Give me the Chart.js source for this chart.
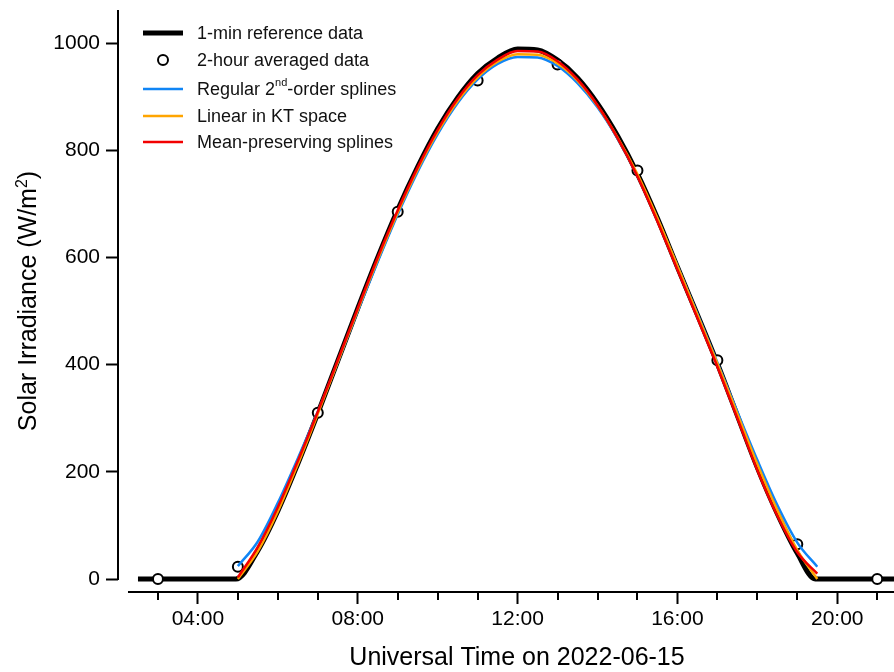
<!DOCTYPE html>
<html>
<head>
<meta charset="utf-8">
<title>Solar irradiance 2022-06-15</title>
<script src="https://cdn.jsdelivr.net/npm/chart.js@4/dist/chart.umd.min.js"></script>
<style>
  html, body { margin: 0; padding: 0; background: #fff; overflow: hidden; }
  #wrap { width: 894px; height: 672px; position: relative; }
</style>
</head>
<body>
<div id="wrap"><canvas id="irr"></canvas></div>
<script>
// 1-min reference data (hours UTC)
const refHours = [2.5, 4.95, 5.5, 6.0, 6.5, 7.0, 7.5, 8.0, 8.5, 9.0, 9.5, 10.0, 10.5, 11.0, 11.5, 12.0,
  12.5, 13.0, 13.5, 14.0, 14.5, 15.0, 15.5, 16.0, 16.5, 17.0, 17.5, 18.0, 18.5, 19.0, 19.45, 22];
const refValues = [0, 0, 53, 127, 215, 309, 407, 505, 600, 689, 769, 840, 898, 943, 972, 989,
  987, 968, 935, 887, 827, 756, 673, 582, 493, 402, 305, 208, 122, 48, 0, 0];

// 2-hour averages
const avgHours = [3, 5, 7, 9, 11, 13, 15, 17, 19, 21];
const avgValues = [0, 23, 310, 685, 930, 960, 762, 408, 65, 0];

// interpolated curves, 05:00 .. 19:30 every half hour
const fitHours = [5.0, 5.5, 6.0, 6.5, 7.0, 7.5, 8.0, 8.5, 9.0, 9.5, 10.0, 10.5, 11.0, 11.5, 12.0,
  12.5, 13.0, 13.5, 14.0, 14.5, 15.0, 15.5, 16.0, 16.5, 17.0, 17.5, 18.0, 18.5, 19.0, 19.5];
const splineValues = [24, 70, 142, 225, 312, 405, 500, 592, 680, 760, 830, 888, 932, 961, 974,
  973, 957, 925, 880, 822, 752, 672, 584, 495, 404, 312, 222, 138, 68, 23];
const ktValues = [0, 52, 126, 214, 308, 405, 502, 596, 684, 764, 834, 892, 936, 965, 979,
  978, 962, 930, 883, 824, 755, 673, 584, 493, 402, 308, 214, 128, 54, 0];
const mpValues = [3, 60, 134, 220, 312, 408, 505, 600, 688, 768, 838, 896, 940, 969, 985,
  984, 966, 932, 884, 823, 751, 667, 577, 487, 396, 300, 203, 118, 50, 10];

// axes
const yTicks = [0, 200, 400, 600, 800, 1000];
const xTickHours = [3, 4, 5, 6, 7, 8, 9, 10, 11, 12, 13, 14, 15, 16, 17, 18, 19, 20, 21];
const xLabelHours = [4, 8, 12, 16, 20];
const xTickLabels = ['04:00', '08:00', '12:00', '16:00', '20:00'];

const FONT = 'Liberation Sans, Arial, sans-serif';
const BLUE = '#1085f5';
const ORANGE = '#ffa500';
const RED = '#f20000';

const pts = (xs, ys) => xs.map((x, i) => ({ x, y: ys[i] }));

// text with superscript pieces
function richWidth(ctx, parts, size) {
  let w = 0;
  parts.forEach(p => {
    ctx.font = `${p.sup ? Math.round(size * 0.62) : size}px ${FONT}`;
    w += ctx.measureText(p.t).width;
  });
  return w;
}
function drawRich(ctx, parts, x, y, size) {
  parts.forEach(p => {
    const s = p.sup ? Math.round(size * 0.62) : size;
    ctx.font = `${s}px ${FONT}`;
    ctx.fillText(p.t, x, p.sup ? y - size * 0.38 : y);
    x += ctx.measureText(p.t).width;
  });
}

const frame = {
  id: 'frame',
  afterDraw(chart) {
    const { ctx, chartArea, scales } = chart;
    const xs = scales.x, ys = scales.y;
    ctx.save();
    ctx.strokeStyle = '#000';
    ctx.lineWidth = 2;

    // detached axis lines
    ctx.beginPath();
    ctx.moveTo(chartArea.left, ys.getPixelForValue(0) + 1);
    ctx.lineTo(chartArea.left, chartArea.top);
    ctx.moveTo(xs.getPixelForValue(2.25), chartArea.bottom);
    ctx.lineTo(chartArea.right, chartArea.bottom);
    ctx.stroke();

    // minor ticks
    ctx.beginPath();
    xTickHours.filter(h => !xLabelHours.includes(h)).forEach(h => {
      const px = Math.round(xs.getPixelForValue(h));
      ctx.moveTo(px, chartArea.bottom);
      ctx.lineTo(px, chartArea.bottom + 8);
    });
    ctx.stroke();

    // axis titles
    ctx.fillStyle = '#000';
    ctx.textBaseline = 'alphabetic';
    ctx.textAlign = 'center';
    ctx.font = `25px ${FONT}`;
    ctx.fillText('Universal Time on 2022-06-15', 517, 665);

    ctx.textAlign = 'left';
    const yt = [{ t: 'Solar Irradiance (W/m' }, { t: '2', sup: true }, { t: ')' }];
    ctx.translate(36, 301);
    ctx.rotate(-Math.PI / 2);
    drawRich(ctx, yt, -richWidth(ctx, yt, 25) / 2, 0, 25);
    ctx.setTransform(1, 0, 0, 1, 0, 0);

    // legend
    const rows = [
      { kind: 'line', color: '#000', w: 5, parts: [{ t: '1-min reference data' }] },
      { kind: 'dot', parts: [{ t: '2-hour averaged data' }] },
      { kind: 'line', color: BLUE, w: 2.5, parts: [{ t: 'Regular 2' }, { t: 'nd', sup: true }, { t: '-order splines' }] },
      { kind: 'line', color: ORANGE, w: 2.5, parts: [{ t: 'Linear in KT space' }] },
      { kind: 'line', color: RED, w: 2.5, parts: [{ t: 'Mean-preserving splines' }] }
    ];
    const rowY = [33, 60, 89, 116, 142];
    ctx.textBaseline = 'middle';
    rows.forEach((r, i) => {
      const y = rowY[i];
      if (r.kind === 'line') {
        ctx.strokeStyle = r.color;
        ctx.lineWidth = r.w;
        ctx.beginPath();
        ctx.moveTo(143, y);
        ctx.lineTo(183, y);
        ctx.stroke();
      } else {
        ctx.strokeStyle = '#000';
        ctx.fillStyle = '#fff';
        ctx.lineWidth = 2;
        ctx.beginPath();
        ctx.arc(163, y, 5, 0, Math.PI * 2);
        ctx.fill();
        ctx.stroke();
      }
      ctx.fillStyle = '#111';
      drawRich(ctx, r.parts, 197, y + 1, 18);
    });
    ctx.restore();
  }
};

new Chart(document.getElementById('irr'), {
  type: 'line',
  data: {
    datasets: [
      {
        label: 'Mean-preserving splines',
        data: pts(fitHours, mpValues),
        borderColor: RED, borderWidth: 2.5, pointRadius: 0,
        cubicInterpolationMode: 'monotone', order: 1
      },
      {
        label: 'Linear in KT space',
        data: pts(fitHours, ktValues),
        borderColor: ORANGE, borderWidth: 2.5, pointRadius: 0,
        cubicInterpolationMode: 'monotone', order: 2
      },
      {
        label: 'Regular 2nd-order splines',
        data: pts(fitHours, splineValues),
        borderColor: BLUE, borderWidth: 2.5, pointRadius: 0,
        cubicInterpolationMode: 'monotone', order: 3
      },
      {
        label: '2-hour averaged data',
        data: pts(avgHours, avgValues),
        showLine: false,
        pointRadius: 5, pointBorderWidth: 2,
        pointBackgroundColor: '#fff', pointBorderColor: '#000',
        order: 4
      },
      {
        label: '1-min reference data',
        data: pts(refHours, refValues),
        borderColor: '#000', borderWidth: 5, pointRadius: 0,
        cubicInterpolationMode: 'monotone', order: 5
      }
    ]
  },
  options: {
    responsive: true,
    maintainAspectRatio: false,
    animation: false,
    layout: { autoPadding: false, padding: { top: 10, left: 0, right: 0, bottom: 0 } },
    plugins: { legend: { display: false }, tooltip: { enabled: false } },
    scales: {
      x: {
        type: 'linear',
        min: 2,
        max: 21.42,
        afterBuildTicks: s => { s.ticks = xTickHours.map(v => ({ value: v })); },
        afterFit: s => { s.height = 80; s.paddingLeft = 0; s.paddingRight = 0; },
        ticks: {
          autoSkip: false,
          maxRotation: 0,
          padding: 3,
          color: '#000',
          font: { family: FONT, size: 21 },
          callback: v => {
            const i = xLabelHours.indexOf(v);
            return i >= 0 ? xTickLabels[i] : '';
          }
        },
        grid: {
          drawOnChartArea: false,
          tickLength: 12,
          tickWidth: 2,
          tickColor: c => (c.tick && xLabelHours.includes(c.tick.value)) ? '#000' : 'rgba(0,0,0,0)'
        },
        border: { display: false }
      },
      y: {
        min: -24.25,
        max: 1061.6,
        afterBuildTicks: s => { s.ticks = yTicks.map(v => ({ value: v })); },
        afterFit: s => { s.width = 118; s.paddingTop = 0; s.paddingBottom = 0; },
        ticks: {
          padding: 6,
          color: '#000',
          font: { family: FONT, size: 21 },
          callback: v => String(v)
        },
        grid: {
          drawOnChartArea: false,
          tickLength: 12,
          tickWidth: 2,
          tickColor: '#000'
        },
        border: { display: false }
      }
    }
  },
  plugins: [frame]
});
</script>
</body>
</html>
